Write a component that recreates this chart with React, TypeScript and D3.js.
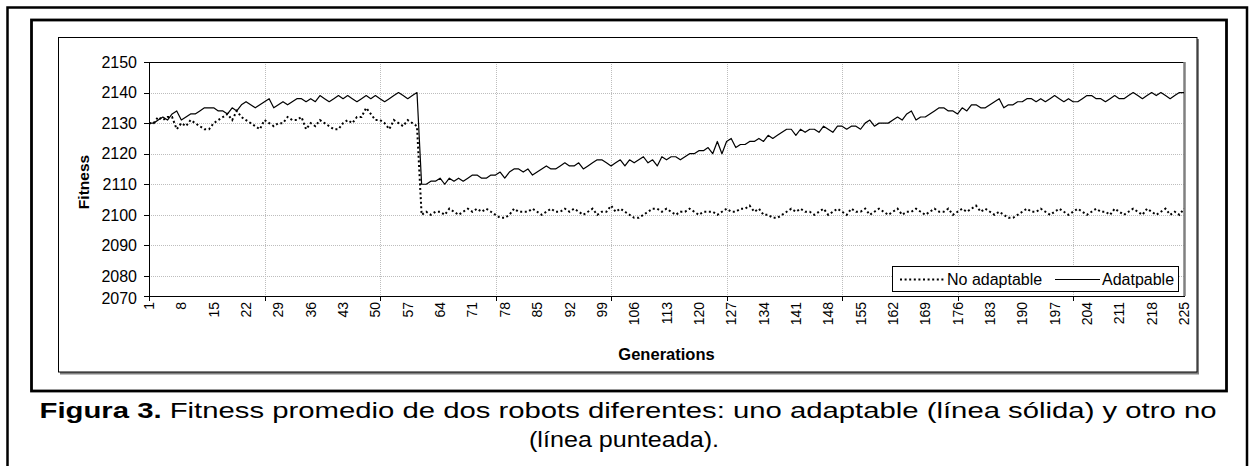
import React from "react";
import * as d3 from "d3";

// generations 1..225 (category axis)
const generations: number[] = Array.from({ length: 225 }, (_, i) => i + 1);

// fitness of the adaptable robot (solid line)
const adaptable: number[] = [
  2130, 2130, 2131, 2132, 2131, 2133, 2134, 2131, 2132, 2133,
  2133, 2134, 2135, 2135, 2135, 2134, 2134, 2133, 2135, 2134,
  2136, 2137, 2136, 2135, 2136, 2137, 2138, 2135, 2136, 2137,
  2136, 2137, 2138, 2138, 2137, 2138, 2137, 2139, 2138, 2137,
  2138, 2139, 2138, 2139, 2138, 2137, 2138, 2139, 2138, 2139,
  2138, 2137, 2138, 2139, 2140, 2139, 2138, 2139, 2140, 2110,
  2110, 2111, 2111, 2112, 2110, 2112, 2111, 2112, 2111, 2112,
  2113, 2113, 2112, 2112, 2113, 2113, 2114, 2112, 2114, 2115,
  2115, 2114, 2115, 2113, 2114, 2115, 2116, 2115, 2115, 2116,
  2117, 2116, 2116, 2117, 2115, 2116, 2117, 2118, 2118, 2117,
  2116, 2117, 2118, 2116, 2118, 2117, 2118, 2119, 2117, 2118,
  2116, 2119, 2118, 2119, 2119, 2118, 2119, 2120, 2120, 2121,
  2121, 2122, 2120, 2124, 2120, 2124, 2125, 2122, 2123, 2123,
  2124, 2124, 2125, 2124, 2126, 2125, 2126, 2127, 2128, 2128,
  2126, 2128, 2127, 2128, 2128, 2127, 2129, 2128, 2127, 2129,
  2129, 2128, 2129, 2129, 2128, 2130, 2131, 2129, 2130, 2130,
  2130, 2131, 2132, 2131, 2133, 2134, 2131, 2132, 2132, 2133,
  2134, 2135, 2135, 2134, 2134, 2133, 2135, 2134, 2136, 2136,
  2135, 2135, 2136, 2137, 2138, 2135, 2136, 2136, 2137, 2137,
  2138, 2138, 2137, 2138, 2137, 2138, 2139, 2138, 2137, 2138,
  2137, 2137, 2138, 2139, 2139, 2138, 2138, 2137, 2138, 2139,
  2138, 2138, 2139, 2140, 2139, 2138, 2139, 2140, 2139, 2140,
  2139, 2138, 2139, 2140, 2140,
];

// fitness of the non adaptable robot (dotted line)
const noAdaptable: number[] = [
  2130, 2130, 2132, 2131, 2132, 2132, 2128, 2130, 2129, 2131,
  2130, 2129, 2128, 2128, 2130, 2131, 2132, 2133, 2131, 2134,
  2132, 2131, 2130, 2129, 2128, 2131, 2130, 2129, 2130, 2130,
  2132, 2131, 2131, 2132, 2128, 2130, 2129, 2131, 2130, 2129,
  2128, 2128, 2130, 2131, 2130, 2132, 2132, 2135, 2133, 2131,
  2131, 2130, 2128, 2131, 2130, 2129, 2131, 2130, 2129, 2100,
  2101, 2100, 2101, 2101, 2100, 2102, 2101, 2100, 2101, 2102,
  2101, 2102, 2101, 2102, 2101, 2100, 2099, 2099, 2100, 2102,
  2101, 2101, 2101, 2102, 2101, 2100, 2101, 2102, 2101, 2101,
  2102, 2101, 2102, 2101, 2100, 2101, 2102, 2100, 2101, 2101,
  2103, 2101, 2102, 2101, 2100, 2099, 2099, 2100, 2101, 2102,
  2102, 2101, 2102, 2101, 2100, 2101, 2101, 2102, 2101, 2100,
  2101, 2101, 2101, 2100, 2101, 2102, 2101, 2101, 2102, 2102,
  2103, 2101, 2102, 2100, 2100, 2099, 2099, 2100, 2101, 2102,
  2101, 2102, 2101, 2101, 2100, 2101, 2102, 2100, 2101, 2102,
  2101, 2100, 2102, 2101, 2101, 2102, 2100, 2101, 2102, 2101,
  2100, 2101, 2102, 2100, 2101, 2101, 2102, 2101, 2100, 2101,
  2102, 2101, 2101, 2102, 2100, 2101, 2102, 2101, 2102, 2103,
  2101, 2102, 2101, 2100, 2101, 2100, 2099, 2099, 2100, 2101,
  2102, 2101, 2101, 2102, 2101, 2100, 2101, 2102, 2101, 2100,
  2101, 2102, 2101, 2100, 2101, 2102, 2101, 2101, 2100, 2102,
  2101, 2100, 2101, 2102, 2101, 2100, 2102, 2101, 2100, 2101,
  2102, 2100, 2101, 2100, 2102,
];

const yTicks: number[] = [2070, 2080, 2090, 2100, 2110, 2120, 2130, 2140, 2150];
// labelled generations (every 7th)
const xLabels: number[] = [
  1, 8, 15, 22, 29, 36, 43, 50, 57, 64, 71, 78, 85, 92, 99, 106, 113,
  120, 127, 134, 141, 148, 155, 162, 169, 176, 183, 190, 197, 204, 211, 218, 225,
];
// tick marks / vertical gridlines (every 25th)
const xTickMarks: number[] = [1, 26, 51, 76, 101, 126, 151, 176, 201];

const legendItems = [
  { name: "No adaptable", dashed: true },
  { name: "Adatpable", dashed: false },
];

const FONT = "'Liberation Sans', Arial, Helvetica, sans-serif";

export default function App() {
  const W = 1249;
  const H = 466;
  // plot area (the picture's x axis sits a little above the 2070 gridline position)
  const left = 149, right = 1184, top = 62, bottom = 296;

  const x = d3.scaleLinear().domain([1, 225]).range([left, right]);
  const y = d3.scaleLinear().domain([2070, 2150]).range([306.5, top]);

  const line = d3
    .line<number>()
    .x((_, i) => x(generations[i]))
    .y((d) => y(d));

  const cx = (left + right) / 2;

  return (
    <svg
      width={W}
      height={H}
      style={{ position: "absolute", left: 0, top: 0, background: "#fff" }}
      fontFamily={FONT}
    >
      {/* outer frames */}
      <rect x={7.5} y={7.5} width={1239.5} height={480} fill="none" stroke="#000" strokeWidth={2.5} />
      <rect x={31.5} y={20} width={1195} height={371} fill="none" stroke="#000" strokeWidth={2.8} />
      {/* chart area with shadow */}
      <rect x={60} y={39} width={1139} height={335.5} fill="#808080" />
      <rect x={58.5} y={37.5} width={1138.5} height={334.5} fill="#fff" stroke="#000" strokeWidth={1} />

      {/* gridlines */}
      <g stroke="#bdbdbd" strokeWidth={1} strokeDasharray="1 1">
        {yTicks.filter((t) => y(t) > top + 1 && y(t) < bottom - 1).map((t) => (
          <line key={"gy" + t} x1={left} x2={right} y1={Math.round(y(t)) + 0.5} y2={Math.round(y(t)) + 0.5} />
        ))}
        {xTickMarks.slice(1).map((g) => (
          <line key={"gx" + g} x1={Math.round(x(g)) + 0.5} x2={Math.round(x(g)) + 0.5} y1={top} y2={bottom} />
        ))}
      </g>

      {/* plot border: top black, right gray */}
      <line x1={left} x2={right} y1={top + 0.5} y2={top + 0.5} stroke="#000" strokeWidth={1} />
      <line x1={right + 0.5} x2={right + 0.5} y1={top} y2={bottom} stroke="#808080" strokeWidth={2.5} />

      {/* series */}
      <path d={line(noAdaptable) || ""} fill="none" stroke="#000" strokeWidth={2} strokeDasharray="2 2.6" />
      <path d={line(adaptable) || ""} fill="none" stroke="#000" strokeWidth={1.2} strokeLinejoin="round" />

      {/* axes */}
      <line x1={left + 0.5} x2={left + 0.5} y1={top} y2={bottom} stroke="#000" strokeWidth={1} />
      <line x1={left} x2={right + 1} y1={bottom + 0.5} y2={bottom + 0.5} stroke="#000" strokeWidth={1} />
      {yTicks.map((t) => {
        const ty = Math.min(y(t), bottom);
        return (
          <g key={"yt" + t}>
            <line x1={left - 5} x2={left} y1={Math.round(ty) + 0.5} y2={Math.round(ty) + 0.5} stroke="#000" />
            <text x={137} y={ty + (y(t) > bottom ? 2 : 0)} dy="0.36em" textAnchor="end" fontSize={16}>
              {t}
            </text>
          </g>
        );
      })}
      {xTickMarks.map((g) => (
        <line key={"xt" + g} x1={Math.round(x(g)) + 0.5} x2={Math.round(x(g)) + 0.5} y1={bottom} y2={bottom + 5} stroke="#000" />
      ))}
      {xLabels.map((g) => (
        <text
          key={"xl" + g}
          transform={`translate(${x(g)},${bottom + 6}) rotate(-90)`}
          dy="0.36em"
          textAnchor="end"
          fontSize={14}
        >
          {g}
        </text>
      ))}

      {/* axis titles */}
      <text transform="translate(89,182) rotate(-90)" textAnchor="middle" fontWeight="bold" fontSize={15.5}>
        Fitness
      </text>
      <text x={cx} y={360} textAnchor="middle" fontWeight="bold" fontSize={16.5}>
        Generations
      </text>

      {/* legend */}
      <rect x={892.5} y={266.5} width={286} height={25} fill="#fff" stroke="#000" strokeWidth={1} />
      {legendItems.map((it, i) => {
        const sx = i === 0 ? 900 : 1055;
        return (
          <g key={it.name}>
            <line
              x1={sx}
              x2={sx + 45}
              y1={279.5}
              y2={279.5}
              stroke="#000"
              strokeWidth={it.dashed ? 2 : 1}
              strokeDasharray={it.dashed ? "2 2.6" : undefined}
            />
            <text x={sx + 47} y={279} dy="0.36em" fontSize={16}>
              {it.name}
            </text>
          </g>
        );
      })}

      {/* caption */}
      <text x={628} y={418} textAnchor="middle" fontSize={21.5} textLength={1177} lengthAdjust="spacingAndGlyphs">
        <tspan fontWeight="bold">Figura 3.</tspan> Fitness promedio de dos robots diferentes: uno adaptable (línea sólida) y otro no
      </text>
      <text x={624} y={447} textAnchor="middle" fontSize={21.5} textLength={190} lengthAdjust="spacingAndGlyphs">
        (línea punteada).
      </text>
    </svg>
  );
}
